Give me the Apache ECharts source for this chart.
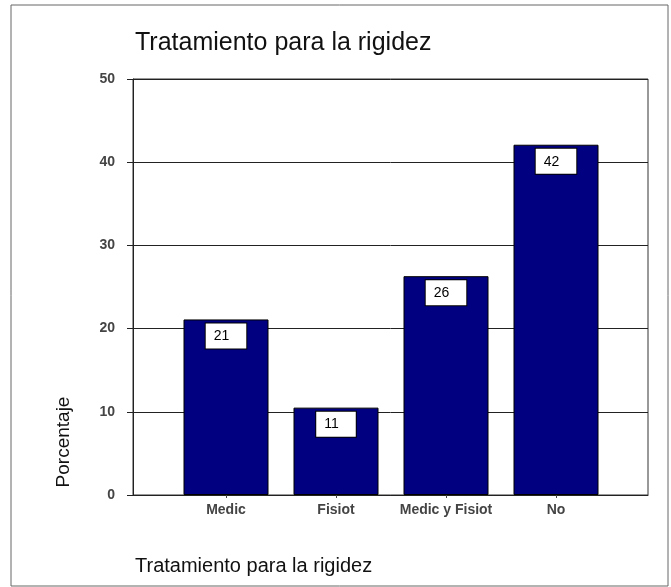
<!DOCTYPE html>
<html>
<head>
<meta charset="utf-8">
<script src="https://cdn.jsdelivr.net/npm/echarts@6/dist/echarts.min.js"></script>
<style>
  html, body { margin: 0; padding: 0; background: #fff; }
  #chart { width: 671px; height: 587px; }
</style>
</head>
<body>
<div id="chart"></div>
<script>
var categories = ['Medic', 'Fisiot', 'Medic y Fisiot', 'No']
var percentValues = [21.1, 10.5, 26.3, 42.1]
var yTicks = [0, 10, 20, 30, 40, 50]

var titleText = 'Tratamiento para la rigidez'
var yAxisName = 'Porcentaje'
var fontFamily = "'Liberation Sans', Arial, sans-serif"

var chart = echarts.init(document.getElementById('chart'))

var option = {
  backgroundColor: '#fff',
  animation: false,
  title: [
    {
      text: titleText,
      left: 130,
      top: 26,
      textStyle: { fontFamily: fontFamily, fontSize: 25, fontWeight: 'normal', color: '#111' }
    },
    {
      text: titleText,
      left: 130,
      top: 551,
      textStyle: { fontFamily: fontFamily, fontSize: 20, fontWeight: 'normal', color: '#111' }
    }
  ],
  graphic: [
    {
      // marco exterior
      type: 'rect',
      shape: { x: 11, y: 5, width: 657, height: 581 },
      style: { fill: null, stroke: '#666', lineWidth: 1 },
      silent: true
    },
    {
      type: 'text',
      x: 64,
      y: 442,
      rotation: Math.PI / 2,
      style: {
        text: yAxisName,
        fontFamily: fontFamily,
        fontSize: 19,
        fill: '#111',
        align: 'center',
        verticalAlign: 'middle'
      }
    }
  ],
  grid: [
    // caja con lineas de la cuadricula
    { left: 133, right: 23, top: 79, bottom: 92, show: true, borderColor: '#333', borderWidth: 1 },
    // barras
    { left: 171, right: 60, top: 79, bottom: 92 }
  ],
  xAxis: [
    {
      gridIndex: 0,
      type: 'category',
      data: [''],
      axisLine: { show: true, lineStyle: { color: '#222' } },
      axisTick: { show: false },
      axisLabel: { show: false }
    },
    {
      gridIndex: 1,
      type: 'category',
      data: categories,
      axisLine: { show: false },
      axisTick: { show: true, alignWithLabel: true, length: 3, lineStyle: { color: '#444' } },
      axisLabel: {
        interval: 0,
        margin: 8,
        fontFamily: fontFamily,
        fontSize: 14,
        fontWeight: 'bold',
        color: '#444'
      }
    }
  ],
  yAxis: [
    {
      gridIndex: 0,
      type: 'value',
      min: yTicks[0],
      max: yTicks[yTicks.length - 1],
      interval: 10,
      axisLine: { show: true, lineStyle: { color: '#222' } },
      axisTick: { show: true, length: 6, lineStyle: { color: '#222' } },
      axisLabel: {
        margin: 18,
        fontFamily: fontFamily,
        fontSize: 14,
        fontWeight: 'bold',
        color: '#444'
      },
      splitLine: { show: true, lineStyle: { color: '#222', width: 1 } } //cuadricula
    },
    {
      gridIndex: 1,
      type: 'value',
      min: yTicks[0],
      max: yTicks[yTicks.length - 1],
      interval: 10,
      show: false,
      splitLine: { show: false }
    }
  ],
  series: [
    {
      type: 'bar',
      xAxisIndex: 1,
      yAxisIndex: 1,
      data: percentValues,
      barWidth: 85,
      itemStyle: { color: '#000080', borderColor: '#000', borderWidth: 1 },
      label: {
        show: true,
        position: 'insideTop',
        distance: 4,
        formatter: function (p) {
          return Math.round(p.value)
        },
        fontFamily: fontFamily,
        fontSize: 14,
        color: '#000',
        backgroundColor: '#fff',
        borderColor: '#000',
        borderWidth: 1,
        padding: [6, 17, 5, 8]
      }
    }
  ]
}

chart.setOption(option)
</script>
</body>
</html>
